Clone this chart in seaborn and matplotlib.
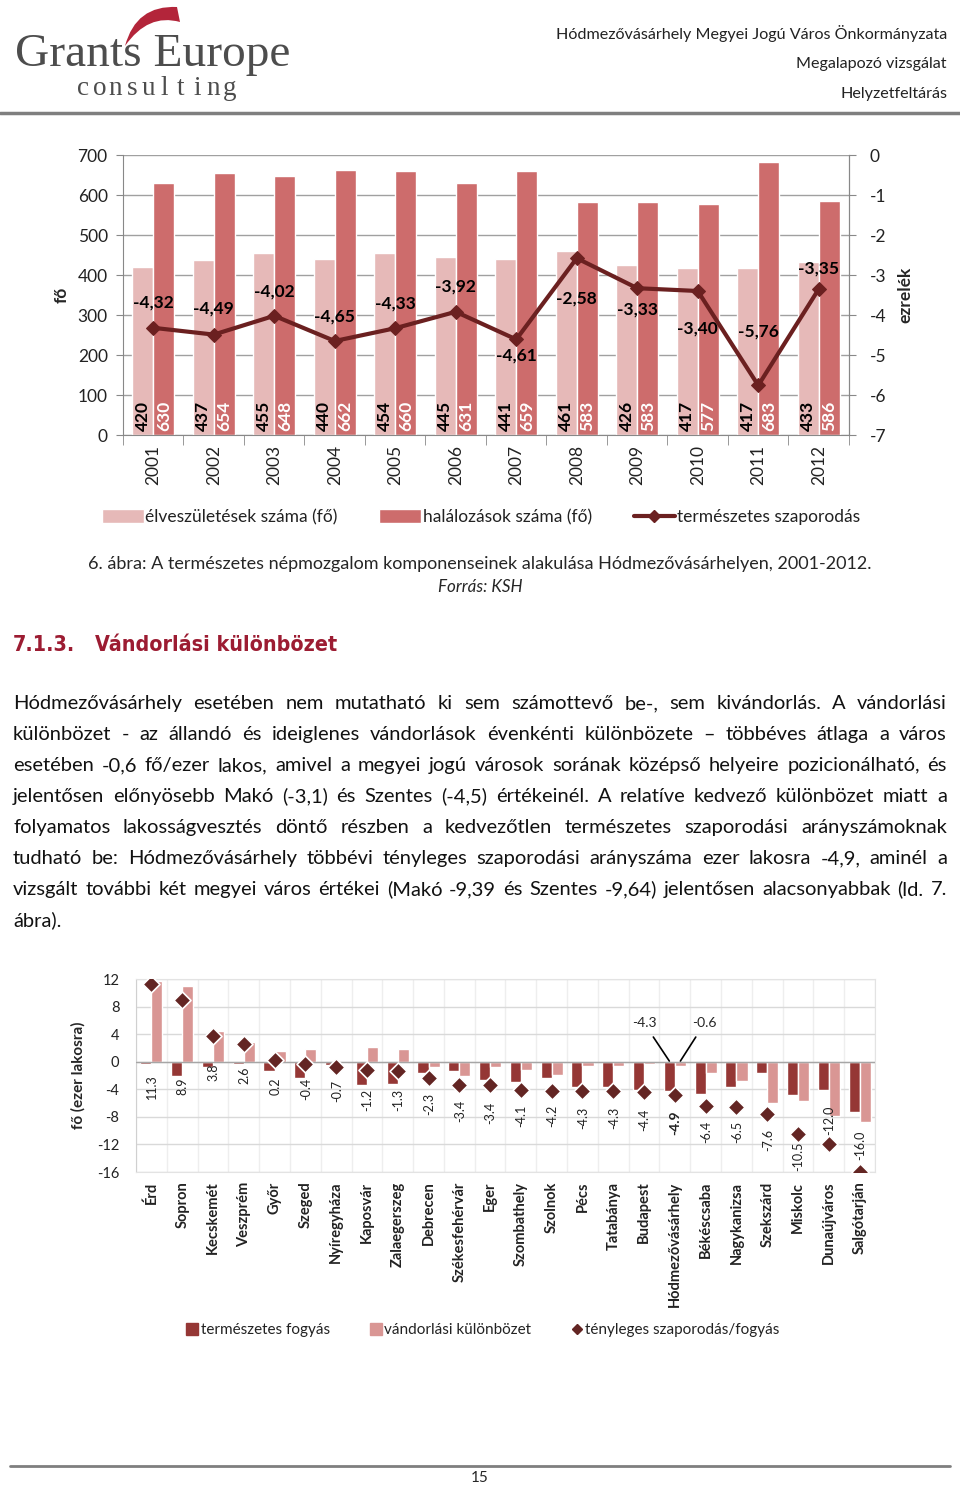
import numpy as np
import pandas as pd
import matplotlib
matplotlib.use("Agg")
import matplotlib.pyplot as plt
import seaborn as sns
from matplotlib.path import Path
from matplotlib.patches import PathPatch, Patch
from matplotlib.lines import Line2D

W, H = 960, 1485

# --- chart 1 data: natural population change, Hódmezővásárhely
years = [str(y) for y in range(2001, 2013)]
births = [420, 437, 455, 440, 454, 445, 441, 461, 426, 417, 417, 433]
deaths = [630, 654, 648, 662, 660, 631, 659, 583, 583, 577, 683, 586]
natural_rate = [-4.32, -4.49, -4.02, -4.65, -4.33, -3.92, -4.61, -2.58, -3.33, -3.40, -5.76, -3.35]
# label offset from the marker, pixels (negative = above)
rate_label_dy = [-25, -26, -24, -24, -25, -25, 16, 40, 21, 38, -54, -20]

# --- chart 2 data: county towns
cities = ["Érd", "Sopron", "Kecskemét", "Veszprém", "Győr", "Szeged", "Nyíregyháza",
          "Kaposvár", "Zalaegerszeg", "Debrecen", "Székesfehérvár", "Eger", "Szombathely",
          "Szolnok", "Pécs", "Tatabánya", "Budapest", "Hódmezővásárhely", "Békéscsaba",
          "Nagykanizsa", "Szekszárd", "Miskolc", "Dunaújváros", "Salgótarján"]
natural_decrease = [-0.4, -2.1, -0.7, -0.3, -1.4, -2.3, -0.5, -3.4, -3.2, -1.6, -1.3, -2.7,
                    -2.9, -2.3, -3.7, -3.7, -4.1, -4.3, -4.7, -3.7, -1.6, -4.8, -4.1, -7.3]
migration_diff = [11.7, 11.0, 4.5, 2.9, 1.6, 1.9, -0.2, 2.2, 1.9, -0.7, -2.1, -0.7,
                  -1.2, -1.9, -0.6, -0.6, -0.3, -0.6, -1.7, -2.8, -6.0, -5.7, -7.9, -8.7]
actual_change = [11.3, 8.9, 3.8, 2.6, 0.2, -0.4, -0.7, -1.2, -1.3, -2.3, -3.4, -3.4,
                 -4.1, -4.2, -4.3, -4.3, -4.4, -4.9, -6.4, -6.5, -7.6, -10.5, -12.0, -16.0]
# where each value label sits (data units)
change_label_y = [-3.6, -3.6, -1.6, -1.9, -3.6, -4.0, -4.3, -5.5, -5.5, -6.1, -7.1, -7.4,
                  -7.8, -7.8, -8.1, -8.1, -8.4, -8.9, -10.2, -10.2, -11.3, -13.7, -8.5, -12.1]
home = "Hódmezővásárhely"

paragraph = [
    "Hódmezővásárhely esetében nem mutatható ki sem számottevő be-, sem kivándorlás. A vándorlási",
    "különbözet - az állandó és ideiglenes vándorlások évenkénti különbözete – többéves átlaga a város",
    "esetében -0,6 fő/ezer lakos, amivel a megyei jogú városok sorának középső helyeire pozicionálható, és",
    "jelentősen előnyösebb Makó (-3,1) és Szentes (-4,5) értékeinél. A relatíve kedvező különbözet miatt a",
    "folyamatos lakosságvesztés döntő részben a kedvezőtlen természetes szaporodási arányszámoknak",
    "tudható be: Hódmezővásárhely többévi tényleges szaporodási arányszáma ezer lakosra -4,9, aminél a",
    "vizsgált további két megyei város értékei (Makó -9,39 és Szentes -9,64) jelentősen alacsonyabbak (ld. 7.",
    "ábra).",
]

sns.set_style("white")
plt.rcParams["font.family"] = ["Lato", "DejaVu Sans"]
plt.rcParams["axes.unicode_minus"] = False

fig = plt.figure(figsize=(W / 100, H / 100), dpi=100)
r = fig.canvas.get_renderer()


def fx(x):
    return x / W


def fy(y):
    return 1 - y / H


def axes_px(x0, y0, x1, y1):
    return fig.add_axes([fx(x0), fy(y1), (x1 - x0) / W, (y1 - y0) / H])


def fit(t, width):
    w = t.get_window_extent(r).width
    t.set_fontsize(t.get_fontsize() * width / w)
    return t


# ---------------- header
logo = fig.text(fx(15), fy(66), "Grants Europe", family="Liberation Serif", color="#4d4d4d",
                fontsize=36, va="baseline", ha="left")
fit(logo, 275)
letters = "consulting"
for i, ch in enumerate(letters):
    fig.text(fx(83 + i * 16.3), fy(95), ch, family="Liberation Serif", color="#4d4d4d",
             fontsize=19.5, va="baseline", ha="center")
arc = Path([(fx(125), fy(46)), (fx(136), fy(5)), (fx(177), fy(7)),
            (fx(180), fy(22)), (fx(148), fy(13)), (fx(125), fy(46)), (fx(125), fy(46))],
           [Path.MOVETO, Path.CURVE3, Path.CURVE3, Path.LINETO, Path.CURVE3, Path.CURVE3,
            Path.CLOSEPOLY])
fig.patches.append(PathPatch(arc, transform=fig.transFigure, facecolor="#b3253a",
                             edgecolor="none"))
for y, s in zip([34, 64, 94], ["Hódmezővásárhely Megyei Jogú Város Önkormányzata",
                               "Megalapozó vizsgálat", "Helyzetfeltárás"]):
    fig.text(fx(947), fy(y), s, ha="right", va="center", fontsize=11.6, color="#222222")
fig.add_artist(Line2D([0, 1], [fy(113)] * 2, color="#7f7f7f", lw=2.5))

# ---------------- chart 1
c_light1, c_dark1, c_line1 = "#e6b9b8", "#cd6c6c", "#6b2020"
df1 = pd.DataFrame({
    "year": years * 2,
    "value": births + deaths,
    "series": ["births"] * 12 + ["deaths"] * 12,
})
ax1 = axes_px(123, 155, 849, 435)
sns.barplot(data=df1, x="year", y="value", hue="series", palette=[c_light1, c_dark1],
            width=0.7, saturation=1, legend=False, ax=ax1, zorder=2)
ax1.set_ylim(0, 700)
ax1.set_xlim(-0.5, 11.5)
ax1.set_yticks(range(0, 701, 100))
ax1.yaxis.grid(True, color="#a0a0a0", lw=1)
ax1.set_axisbelow(True)
ax1.set_xlabel("")
ax1.set_ylabel("fő", fontsize=12.5, fontweight="bold", labelpad=6)
ax1.tick_params(axis="y", labelsize=12.5, length=5, color="#888888", direction="out", pad=6,
                left=True, labelcolor="#222222")
ax1.set_xticks(range(12))
ax1.set_xticklabels(years, rotation=90, fontsize=12.5, color="#222222")
ax1.tick_params(axis="x", length=0, pad=7)
ax1.set_xticks(np.arange(-0.5, 12, 1), minor=True)
ax1.tick_params(axis="x", which="minor", length=7, color="#888888", direction="out", bottom=True)
ax1.spines["top"].set_visible(False)
for s in ["left", "bottom", "right"]:
    ax1.spines[s].set_color("#888888")

for cont, col in zip(ax1.containers, ["black", "white"]):
    for p in cont.patches:
        ax1.text(p.get_x() + p.get_width() / 2, 9, f"{p.get_height():.0f}", rotation=90,
                 ha="center", va="bottom", fontsize=12.5, fontweight="bold", color=col)

ax1b = ax1.twinx()
sns.lineplot(x=np.arange(12), y=natural_rate, ax=ax1b, color=c_line1, lw=3, marker="D",
             markersize=7, markeredgecolor=c_line1, zorder=5)
ax1b.set_ylim(-7, 0)
ax1b.set_yticks(range(-7, 1))
ax1b.tick_params(axis="y", labelsize=12.5, length=5, color="#888888", direction="out", pad=10,
                 right=True, labelcolor="#222222")
ax1b.set_ylabel("ezrelék", fontsize=12.5, fontweight="bold", labelpad=8)
for s in ["top", "left", "bottom"]:
    ax1b.spines[s].set_visible(False)
ax1b.spines["right"].set_color("#888888")
for i, (v, dy) in enumerate(zip(natural_rate, rate_label_dy)):
    ax1b.annotate(f"{v:.2f}".replace(".", ","), (i, v), xytext=(0, -dy * 0.72),
                  textcoords="offset points", ha="center", va="center", fontsize=12.5,
                  fontweight="bold", color="black")

h1 = [Patch(facecolor=c_light1), Patch(facecolor=c_dark1),
      Line2D([], [], color=c_line1, lw=3, marker="D", markersize=6)]
fig.legend(h1, ["élveszületések száma (fő)", "halálozások száma (fő)",
                "természetes szaporodás"], loc="center", bbox_to_anchor=(fx(481), fy(517)),
           ncol=3, frameon=False, fontsize=12.5, handlelength=2.4, handleheight=0.8,
           handletextpad=0.1, columnspacing=2.4, labelcolor="#222222")

cap = fig.text(fx(480), fy(564), "6. ábra: A természetes népmozgalom komponenseinek alakulása "
               "Hódmezővásárhelyen, 2001-2012.", ha="center", va="center", fontsize=12)
fit(cap, 780)
fig.text(fx(480), fy(587), "Forrás: KSH", ha="center", va="center", style="italic",
         fontsize=cap.get_fontsize() * 0.95)

# ---------------- heading and text
red = "#9c1c32"
h_num = fig.text(fx(13), fy(651), "7.1.3.", family="DejaVu Sans", fontstretch="condensed",
                 fontweight="bold", color=red, fontsize=20, va="baseline")
fit(h_num, 62)
h_txt = fig.text(fx(95), fy(651), "Vándorlási különbözet", family="DejaVu Sans",
                 fontstretch="condensed", fontweight="bold", color=red, fontsize=20,
                 va="baseline")
fit(h_txt, 242)

probe = fig.text(0, 0, paragraph[6], fontsize=14)
body_size = 14 * 915 / probe.get_window_extent(r).width
probe.remove()
x_left, x_right = 13, 947
for k, line in enumerate(paragraph):
    y = 709 + 31 * k
    words = line.split(" ")
    objs = [fig.text(0, fy(y), w, fontsize=body_size, va="baseline", color="#111111")
            for w in words]
    widths = [o.get_window_extent(r).width for o in objs]
    if k == len(paragraph) - 1 or len(words) == 1:
        gap = body_size * 0.35
    else:
        gap = (x_right - x_left - sum(widths)) / (len(words) - 1)
    x = x_left
    for o, w in zip(objs, widths):
        o.set_x(fx(x))
        x += w + gap

# ---------------- chart 2
c_dark2, c_light2, c_mark2 = "#953735", "#d99694", "#632523"
n = len(cities)
df2 = pd.DataFrame({
    "city": cities * 2,
    "value": natural_decrease + migration_diff,
    "series": ["natural"] * n + ["migration"] * n,
})
ax2 = axes_px(136, 979, 875, 1172)
sns.barplot(data=df2, x="city", y="value", hue="series", order=cities,
            palette=[c_dark2, c_light2], width=0.72, saturation=1, legend=False, ax=ax2,
            zorder=2)
sns.scatterplot(x=np.arange(n), y=actual_change, ax=ax2, marker="D", s=75, color=c_mark2,
                edgecolor="white", linewidth=1.2, zorder=5)
ax2.set_ylim(-16, 12)
ax2.set_xlim(-0.5, n - 0.5)
ax2.set_yticks(range(-16, 13, 4))
ax2.yaxis.grid(True, color="#d9d9d9", lw=1)
ax2.set_xticks(np.arange(-0.5, n, 1), minor=True)
ax2.xaxis.grid(True, which="minor", color="#eeeeee", lw=1)
ax2.set_axisbelow(True)
ax2.axhline(0, color="#a6a6a6", lw=1, zorder=3)
ax2.set_xlabel("")
ax2.set_ylabel("fő (ezer lakosra)", fontsize=11, fontweight="bold", labelpad=8)
ax2.tick_params(axis="y", labelsize=10.5, length=0, pad=12, colors="#222222")
ax2.set_xticks(range(n))
ax2.set_xticklabels(cities, rotation=90, fontsize=10.5, fontweight="bold", color="#222222")
ax2.tick_params(axis="x", length=0, pad=7)
for s in ["top", "right", "bottom"]:
    ax2.spines[s].set_color("#e3e3e3")
ax2.spines["left"].set_color("#d0d0d0")

for i, (v, ly) in enumerate(zip(actual_change, change_label_y)):
    big = cities[i] == home
    ax2.text(i + 0.02, ly, f"{v:.1f}", rotation=90, ha="center", va="center",
             fontsize=10 if big else 9, fontweight="bold" if big else "normal",
             color="#222222")

hi = cities.index(home)
bar_nat = ax2.containers[0].patches[hi]
bar_mig = ax2.containers[1].patches[hi]
ax2.annotate(f"{natural_decrease[hi]:.1f}", (bar_nat.get_x() + bar_nat.get_width() / 2, 0.1),
             xytext=(hi - 1.0, 5.6), ha="center", va="center", fontsize=10,
             arrowprops=dict(arrowstyle="-", color="black", lw=1.2, shrinkA=4, shrinkB=0))
ax2.annotate(f"{migration_diff[hi]:.1f}", (bar_mig.get_x() + bar_mig.get_width() / 2, 0.1),
             xytext=(hi + 0.97, 5.6), ha="center", va="center", fontsize=10,
             arrowprops=dict(arrowstyle="-", color="black", lw=1.2, shrinkA=4, shrinkB=0))

h2 = [Line2D([], [], ls="none", marker="s", markersize=8, color=c_dark2),
      Line2D([], [], ls="none", marker="s", markersize=8, color=c_light2),
      Line2D([], [], ls="none", marker="D", markersize=5, color=c_mark2)]
fig.legend(h2, ["természetes fogyás", "vándorlási különbözet", "tényleges szaporodás/fogyás"],
           loc="center", bbox_to_anchor=(fx(483), fy(1330)), ncol=3, frameon=False,
           fontsize=11, handlelength=0.8, handletextpad=0.15, columnspacing=2.6,
           labelcolor="#222222")

# ---------------- footer
fig.add_artist(Line2D([fx(10), fx(950)], [fy(1466)] * 2, color="#7f7f7f", lw=2))
fig.text(fx(480), fy(1478), "15", ha="center", va="center", fontsize=11)

fig.savefig("out.png", dpi=100)
